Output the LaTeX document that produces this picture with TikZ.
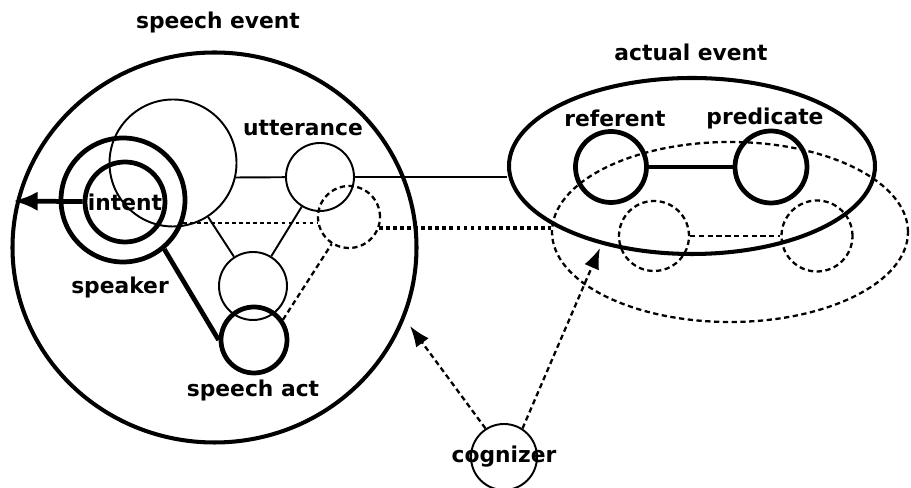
\documentclass[tikz,border=0pt]{standalone}
\usepackage{fontspec}
\setmainfont{DejaVu Sans}
\usetikzlibrary{arrows.meta}
\usetikzlibrary{shapes.geometric}

\begin{document}
\begin{tikzpicture}
                \tikzstyle{every node}=[circle, inner sep=0pt, font=\fontsize{6.2}{7}\selectfont\bfseries]
                \tikzstyle{fine}=[line width=0.55pt]
                \tikzstyle{heavy}=[line width=1.35pt]
                \tikzstyle{broken}=[line width=0.65pt, dash pattern=on 1.5pt off 1pt]
                \tikzstyle{dotted line}=[line width=0.8pt, dash pattern=on 1.1pt off 0.9pt]
                \useasboundingbox (0,0) rectangle (9.11,4.88);

                % speech event
                \node[draw, ellipse, line width=1.15pt, minimum width=4.04cm, minimum height=3.90cm] (se) at (2.145,2.405) {};
                \node (selab) at (2.18,4.66) {speech event};
                \node[draw, fine, minimum size=1.27cm] (bc) at (1.73,3.25) {};
                \node[draw, heavy, minimum size=1.24cm] (sp) at (1.23,2.88) {};
                \node[draw, heavy, minimum size=0.80cm] (in) at (1.25,2.86) {intent};
                \node (splab) at (1.20,2.01) {speaker};
                \node[draw, fine, minimum size=0.68cm] (ut) at (3.20,3.11) {};
                \node (utlab) at (3.03,3.60) {utterance};
                \node[draw, broken, minimum size=0.62cm] (ud) at (3.49,2.71) {};
                \node[draw, fine, minimum size=0.68cm] (sb) at (2.53,2.02) {};
                \node[draw, heavy, minimum size=0.66cm] (sa) at (2.54,1.48) {};
                \node (salab) at (2.53,0.98) {speech act};
                \coordinate (tip) at (0.13,2.87);

                % actual event
                \node[draw, ellipse, line width=1.15pt, minimum width=3.66cm, minimum height=1.76cm] (ae) at (6.92,3.22) {};
                \node (aelab) at (6.91,4.36) {actual event};
                \node[draw, heavy, minimum size=0.71cm] (rf) at (6.11,3.21) {};
                \node (rflab) at (6.15,3.70) {referent};
                \node[draw, heavy, minimum size=0.72cm] (pr) at (7.71,3.21) {};
                \node (prlab) at (7.65,3.70) {predicate};
                \node[draw, ellipse, broken, minimum width=3.56cm, minimum height=1.80cm] (de) at (7.30,2.56) {};
                \node[draw, broken, minimum size=0.70cm] (d1) at (6.54,2.52) {};
                \node[draw, broken, minimum size=0.71cm] (d2) at (8.17,2.52) {};

                % cognizer
                \node[draw, fine, minimum size=0.66cm] (cg) at (5.04,0.31) {};
                \node (cglab) at (cg) {cognizer};
                \coordinate (cgse) at (4.10,1.62);
                \coordinate (cgae) at (6.00,2.40);

                \draw[-{Latex[length=7pt,width=5.5pt]}, heavy] (in) -- (tip);
                \draw[fine] (bc.-13) -- (ut);
                \draw[fine] (ut.east) -- (ut -| ae.west);
                \draw[fine] (bc) -- (sb);
                \draw[fine] (ut) -- (sb);
                \draw[heavy] (sp.-50) -- (sa.west);
                \draw[dotted line] (sp.-21) -- (sp.-21 -| ud.west);
                \draw[dotted line, line width=1.1pt] (ud.-20) -- (ud.-20 -| de.west);
                \draw[broken] (sa.35) -- (ud);
                \draw[heavy] (rf) -- (pr);
                \draw[broken] (d1) -- (d2);
                \draw[broken, -Latex] (cg.123) -- (cgse);
                \draw[broken, -Latex] (cg.57) -- (cgae);
\end{tikzpicture}
\end{document}
